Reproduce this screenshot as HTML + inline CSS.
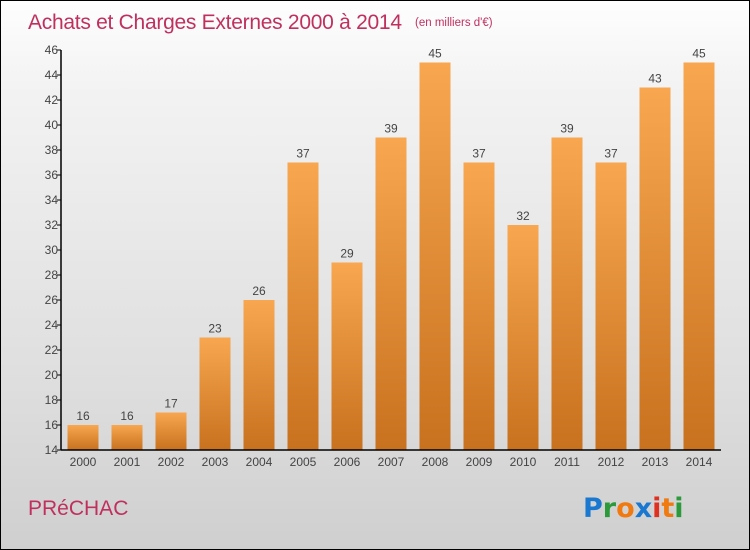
<!DOCTYPE html>
<html><head><meta charset="utf-8"><style>
body{margin:0}
#c{position:relative;width:748px;height:548px;border:1px solid #000;background:linear-gradient(#fefefe,#f3f3f3 15%,#dedede 70%,#cfcfcf);font-family:"Liberation Sans",sans-serif;overflow:hidden}
</style></head><body>
<div id="c">
<svg id="s" width="748" height="548">
<defs><linearGradient id="g" x1="0" y1="0" x2="0" y2="1"><stop offset="0" stop-color="#f8a750"/><stop offset="1" stop-color="#c8711e"/></linearGradient></defs>
<text x="27" y="28" font-size="21" fill="#c0305f" textLength="374">Achats et Charges Externes 2000 à 2014</text>
<text x="414" y="25" font-size="11.5" fill="#c0305f">(en milliers d'€)</text>
<text x="27" y="514" font-size="21" fill="#c0305f">PRéCHAC</text>
<g font-size="27" font-weight="bold" font-family="'DejaVu Sans',sans-serif">
<text x="582" y="516"><tspan fill="#1a78d0">P</tspan><tspan fill="#2a9a3a">r</tspan><tspan fill="#f07a10">o</tspan><tspan fill="#1a78d0">x</tspan><tspan fill="#e03020">i</tspan><tspan fill="#f07a10">t</tspan><tspan fill="#2a9a3a">i</tspan></text></g>
<g id="plot"></g>
</svg></div>
<script>
const categories=["2000","2001","2002","2003","2004","2005","2006","2007","2008","2009","2010","2011","2012","2013","2014"];
const values=[16,16,17,23,26,37,29,39,45,37,32,39,37,43,45];
const yTicks=[14,16,18,20,22,24,26,28,30,32,34,36,38,40,42,44,46];
const NS="http://www.w3.org/2000/svg";
const g=document.getElementById('plot');
const x0=60,x1=720,yTop=49,yBot=449,ymin=14,ymax=46;
const band=(x1-x0)/categories.length;
const y=v=>yBot-(v-ymin)/(ymax-ymin)*(yBot-yTop);
const xc=i=>x0+band*(i+0.5);
function mk(t,a){const e=document.createElementNS(NS,t);for(const k in a)e.setAttribute(k,a[k]);g.appendChild(e);return e;}
values.forEach((v,i)=>{
 const r=mk('rect',{x:xc(i)-15.5,y:y(v),width:31,height:yBot-y(v),fill:'url(#g)'});
 
 
 const t=mk('text',{x:xc(i),y:y(v)-5,'text-anchor':'middle','font-size':12,fill:'#444'});
 t.textContent=v;
 
 
 const c=mk('text',{x:xc(i),y:yBot+16,'text-anchor':'middle','font-size':12,fill:'#444'});
 c.textContent=categories[i];
 
 
});
yTicks.forEach(v=>{
 const l=mk('line',{x1:x0-4,x2:x0,y1:y(v),y2:y(v),stroke:'#000'});
 
 
 const t=mk('text',{x:x0-3,y:y(v)+4,'text-anchor':'end','font-size':12,fill:'#444'});
 t.textContent=v;
 
 
});
const ya=mk('line',{x1:x0,x2:x0,y1:yTop,y2:yBot,stroke:'#000','stroke-width':1.5});


const xa=mk('line',{x1:x0,x2:x1,y1:yBot,y2:yBot,stroke:'#000','stroke-width':1.5});


</script>
</body></html>
